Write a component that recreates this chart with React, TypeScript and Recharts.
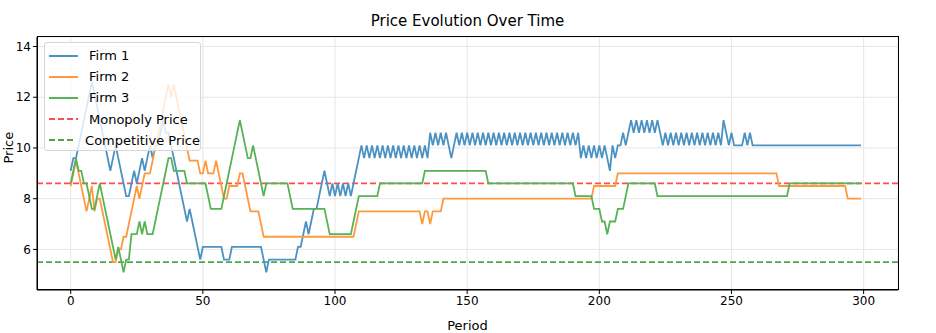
import React from "react";
import {
  LineChart,
  Line,
  XAxis,
  YAxis,
  CartesianGrid,
  ReferenceLine,
} from "recharts";

// prices per period (0..299)
const firm1Prices = [
  9.1, 9.6, 9.6, 10.1, 10.6, 11.1, 11.6, 12.1, 12.6, 12.1,
  11.6, 11.1, 10.6, 10.1, 9.6, 9.1, 9.6, 10.1, 9.6, 9.1,
  8.6, 8.1, 8.1, 8.6, 9.1, 8.6, 9.1, 9.6, 9.1, 9.6,
  10.1, 9.6, 10.1, 10.1, 10.6, 11.1, 10.6, 10.6, 10.1, 9.6,
  9.1, 8.6, 8.1, 7.6, 7.1, 7.6, 7.1, 6.6, 6.1, 5.6,
  6.1, 6.1, 6.1, 6.1, 6.1, 6.1, 6.1, 6.1, 5.6, 5.6,
  5.6, 6.1, 6.1, 6.1, 6.1, 6.1, 6.1, 6.1, 6.1, 6.1,
  6.1, 6.1, 6.1, 5.6, 5.1, 5.6, 5.6, 5.6, 5.6, 5.6,
  5.6, 5.6, 5.6, 5.6, 5.6, 5.6, 6.1, 6.1, 6.6, 7.1,
  6.6, 7.1, 7.6, 7.6, 8.1, 8.6, 9.1, 8.6, 8.1, 8.6,
  8.1, 8.6, 8.1, 8.6, 8.1, 8.6, 8.1, 8.6, 9.1, 9.6,
  10.1, 9.6, 10.1, 9.6, 10.1, 9.6, 10.1, 9.6, 10.1, 9.6,
  10.1, 9.6, 10.1, 9.6, 10.1, 9.6, 10.1, 9.6, 10.1, 9.6,
  10.1, 9.6, 10.1, 9.6, 10.1, 9.6, 10.6, 10.1, 10.6, 10.1,
  10.6, 10.1, 10.6, 10.1, 9.6, 10.1, 10.6, 10.1, 10.6, 10.1,
  10.6, 10.1, 10.6, 10.1, 10.6, 10.1, 10.6, 10.1, 10.6, 10.1,
  10.6, 10.1, 10.6, 10.1, 10.6, 10.1, 10.6, 10.1, 10.6, 10.1,
  10.6, 10.1, 10.6, 10.1, 10.6, 10.1, 10.6, 10.1, 10.6, 10.1,
  10.6, 10.1, 10.6, 10.1, 10.6, 10.1, 10.6, 10.1, 10.6, 10.1,
  10.6, 10.1, 10.6, 9.6, 10.1, 9.6, 10.1, 9.6, 10.1, 9.6,
  10.1, 9.6, 10.1, 9.6, 9.1, 10.1, 9.6, 10.1, 10.1, 10.6,
  10.1, 10.6, 11.1, 10.6, 11.1, 10.6, 11.1, 10.6, 11.1, 10.6,
  11.1, 10.6, 11.1, 10.6, 10.1, 10.6, 10.1, 10.6, 10.1, 10.6,
  10.1, 10.6, 10.1, 10.6, 10.1, 10.6, 10.1, 10.6, 10.1, 10.6,
  10.1, 10.6, 10.1, 10.6, 10.1, 10.6, 10.1, 11.1, 10.6, 10.1,
  10.6, 10.1, 10.1, 10.1, 10.1, 10.6, 10.1, 10.6, 10.1, 10.1,
  10.1, 10.1, 10.1, 10.1, 10.1, 10.1, 10.1, 10.1, 10.1, 10.1,
  10.1, 10.1, 10.1, 10.1, 10.1, 10.1, 10.1, 10.1, 10.1, 10.1,
  10.1, 10.1, 10.1, 10.1, 10.1, 10.1, 10.1, 10.1, 10.1, 10.1,
  10.1, 10.1, 10.1, 10.1, 10.1, 10.1, 10.1, 10.1, 10.1, 10.1,
];

const firm2Prices = [
  8.5, 9.0, 9.5, 9.0, 8.5, 8.0, 7.5, 8.0, 8.5, 7.5,
  8.0, 8.0, 7.5, 7.0, 6.5, 6.0, 5.5, 5.5, 6.0, 6.0,
  6.5, 6.5, 7.0, 7.5, 8.0, 8.5, 8.0, 8.5, 9.0, 9.0,
  9.0, 9.5, 10.0, 10.5, 11.0, 11.5, 12.0, 12.5, 12.0, 12.5,
  12.0, 11.5, 11.0, 10.5, 10.0, 9.5, 9.5, 9.5, 9.5, 9.0,
  9.0, 9.5, 9.0, 9.0, 9.0, 9.5, 9.0, 8.5, 8.0, 8.0,
  8.5, 8.5, 8.5, 8.5, 9.0, 9.0, 8.5, 8.0, 7.5, 7.5,
  7.5, 7.5, 7.0, 6.5, 6.5, 6.5, 6.5, 6.5, 6.5, 6.5,
  6.5, 6.5, 6.5, 6.5, 6.5, 6.5, 6.5, 6.5, 6.5, 6.5,
  6.5, 6.5, 6.5, 6.5, 6.5, 6.5, 6.5, 6.5, 6.5, 6.5,
  6.5, 6.5, 6.5, 6.5, 6.5, 6.5, 6.5, 6.5, 7.0, 7.5,
  7.5, 7.5, 7.5, 7.5, 7.5, 7.5, 7.5, 7.5, 7.5, 7.5,
  7.5, 7.5, 7.5, 7.5, 7.5, 7.5, 7.5, 7.5, 7.5, 7.5,
  7.5, 7.5, 7.5, 7.0, 7.5, 7.5, 7.0, 7.5, 7.5, 7.5,
  7.5, 8.0, 8.0, 8.0, 8.0, 8.0, 8.0, 8.0, 8.0, 8.0,
  8.0, 8.0, 8.0, 8.0, 8.0, 8.0, 8.0, 8.0, 8.0, 8.0,
  8.0, 8.0, 8.0, 8.0, 8.0, 8.0, 8.0, 8.0, 8.0, 8.0,
  8.0, 8.0, 8.0, 8.0, 8.0, 8.0, 8.0, 8.0, 8.0, 8.0,
  8.0, 8.0, 8.0, 8.0, 8.0, 8.0, 8.0, 8.0, 8.0, 8.0,
  8.0, 8.0, 8.0, 8.0, 8.0, 8.0, 8.0, 8.0, 8.5, 8.5,
  8.5, 8.5, 8.5, 8.5, 8.5, 8.5, 8.5, 9.0, 9.0, 9.0,
  9.0, 9.0, 9.0, 9.0, 9.0, 9.0, 9.0, 9.0, 9.0, 9.0,
  9.0, 9.0, 9.0, 9.0, 9.0, 9.0, 9.0, 9.0, 9.0, 9.0,
  9.0, 9.0, 9.0, 9.0, 9.0, 9.0, 9.0, 9.0, 9.0, 9.0,
  9.0, 9.0, 9.0, 9.0, 9.0, 9.0, 9.0, 9.0, 9.0, 9.0,
  9.0, 9.0, 9.0, 9.0, 9.0, 9.0, 9.0, 9.0, 9.0, 9.0,
  9.0, 9.0, 9.0, 9.0, 9.0, 9.0, 9.0, 9.0, 8.5, 8.5,
  8.5, 8.5, 8.5, 8.5, 8.5, 8.5, 8.5, 8.5, 8.5, 8.5,
  8.5, 8.5, 8.5, 8.5, 8.5, 8.5, 8.5, 8.5, 8.5, 8.5,
  8.5, 8.5, 8.5, 8.5, 8.0, 8.0, 8.0, 8.0, 8.0, 8.0,
];

const firm3Prices = [
  8.6, 9.1, 9.6, 9.1, 9.1, 8.6, 8.6, 8.1, 7.6, 7.6,
  8.1, 8.6, 8.1, 7.6, 7.1, 6.6, 6.1, 5.6, 6.1, 5.6,
  5.1, 5.6, 5.6, 6.6, 6.6, 6.6, 7.1, 6.6, 7.1, 6.6,
  6.6, 6.6, 7.1, 7.6, 8.1, 8.6, 9.1, 9.6, 9.6, 9.1,
  9.1, 9.1, 9.1, 9.1, 8.6, 8.6, 8.6, 8.6, 8.6, 8.6,
  8.6, 8.6, 8.1, 7.6, 7.6, 7.6, 7.6, 7.6, 8.1, 8.6,
  9.1, 9.6, 10.1, 10.6, 11.1, 10.6, 10.1, 9.6, 9.6, 10.1,
  9.6, 9.1, 8.6, 8.1, 8.6, 8.6, 8.6, 8.6, 8.6, 8.6,
  8.6, 8.6, 8.6, 8.1, 7.6, 7.6, 7.6, 7.6, 7.6, 7.6,
  7.6, 7.6, 7.6, 7.6, 7.6, 7.6, 7.6, 7.1, 6.6, 6.6,
  6.6, 6.6, 6.6, 6.6, 6.6, 6.6, 6.6, 7.1, 7.6, 8.1,
  8.1, 8.1, 8.1, 8.1, 8.1, 8.1, 8.1, 8.6, 8.6, 8.6,
  8.6, 8.6, 8.6, 8.6, 8.6, 8.6, 8.6, 8.6, 8.6, 8.6,
  8.6, 8.6, 8.6, 8.6, 9.1, 9.1, 9.1, 9.1, 9.1, 9.1,
  9.1, 9.1, 9.1, 9.1, 9.1, 9.1, 9.1, 9.1, 9.1, 9.1,
  9.1, 9.1, 9.1, 9.1, 9.1, 9.1, 9.1, 9.1, 8.6, 8.6,
  8.6, 8.6, 8.6, 8.6, 8.6, 8.6, 8.6, 8.6, 8.6, 8.6,
  8.6, 8.6, 8.6, 8.6, 8.6, 8.6, 8.6, 8.6, 8.6, 8.6,
  8.6, 8.6, 8.6, 8.6, 8.6, 8.6, 8.6, 8.6, 8.6, 8.6,
  8.6, 8.1, 8.1, 8.1, 8.1, 8.1, 8.1, 8.1, 7.6, 7.6,
  7.6, 7.1, 7.1, 6.6, 7.1, 7.1, 7.1, 7.6, 7.6, 7.6,
  8.1, 8.6, 8.6, 8.6, 8.6, 8.6, 8.6, 8.6, 8.6, 8.6,
  8.6, 8.6, 8.1, 8.1, 8.1, 8.1, 8.1, 8.1, 8.1, 8.1,
  8.1, 8.1, 8.1, 8.1, 8.1, 8.1, 8.1, 8.1, 8.1, 8.1,
  8.1, 8.1, 8.1, 8.1, 8.1, 8.1, 8.1, 8.1, 8.1, 8.1,
  8.1, 8.1, 8.1, 8.1, 8.1, 8.1, 8.1, 8.1, 8.1, 8.1,
  8.1, 8.1, 8.1, 8.1, 8.1, 8.1, 8.1, 8.1, 8.1, 8.1,
  8.1, 8.1, 8.6, 8.6, 8.6, 8.6, 8.6, 8.6, 8.6, 8.6,
  8.6, 8.6, 8.6, 8.6, 8.6, 8.6, 8.6, 8.6, 8.6, 8.6,
  8.6, 8.6, 8.6, 8.6, 8.6, 8.6, 8.6, 8.6, 8.6, 8.6,
];

const MONOPOLY_PRICE = 8.6;
const COMPETITIVE_PRICE = 5.5;

const xTicks = [0, 50, 100, 150, 200, 250, 300];
const yTicks = [6, 8, 10, 12, 14];

const FONT = "'DejaVu Sans', sans-serif";
const C_FIRM1 = "#4b92c3";
const C_FIRM2 = "#ff993e";
const C_FIRM3 = "#56b356";
const C_MONO = "#ff4d4d";
const C_COMP = "#4da64d";

// plot box in page pixels
const PLOT_LEFT = 37;
const PLOT_TOP = 37;
const PLOT_RIGHT = 898;
const PLOT_BOTTOM = 290;

const chartData = firm1Prices.map((p, i) => ({
  period: i,
  firm1: p,
  firm2: firm2Prices[i],
  firm3: firm3Prices[i],
}));

const legendItems = [
  { label: "Firm 1", color: C_FIRM1, dashed: false },
  { label: "Firm 2", color: C_FIRM2, dashed: false },
  { label: "Firm 3", color: C_FIRM3, dashed: false },
  { label: "Monopoly Price", color: C_MONO, dashed: true },
  { label: "Competitive Price", color: C_COMP, dashed: true },
];

function PriceLegend() {
  return (
    <div
      style={{
        position: "absolute",
        left: 44,
        top: 42,
        width: 157,
        height: 109,
        background: "rgba(255,255,255,0.8)",
        border: "1px solid #d6d6d6",
        borderRadius: 3,
        boxSizing: "border-box",
        paddingTop: 2,
      }}
    >
      {legendItems.map((it) => (
        <div
          key={it.label}
          style={{ display: "flex", alignItems: "center", height: 21.2 }}
        >
          <svg width={29} height={6} style={{ marginLeft: 4 }}>
            <line
              x1={0}
              y1={3}
              x2={29}
              y2={3}
              stroke={it.color}
              strokeWidth={2}
              strokeDasharray={it.dashed ? "6 3" : undefined}
            />
          </svg>
          <span
            style={{
              marginLeft: 11,
              fontFamily: FONT,
              fontSize: 13,
              color: "#000",
              whiteSpace: "nowrap",
            }}
          >
            {it.label}
          </span>
        </div>
      ))}
    </div>
  );
}

export default function App() {
  const tickStyle = { fill: "#000", fontSize: 12, fontFamily: FONT };
  return (
    <div
      style={{
        position: "absolute",
        left: 0,
        top: 0,
        width: 936,
        height: 333,
        background: "#fff",
      }}
    >
      <div
        style={{
          position: "absolute",
          left: PLOT_LEFT,
          width: PLOT_RIGHT - PLOT_LEFT,
          top: 11,
          textAlign: "center",
          fontFamily: FONT,
          fontSize: 15,
          lineHeight: "20px",
        }}
      >
        Price Evolution Over Time
      </div>
      <LineChart
        width={936}
        height={333}
        data={chartData}
        margin={{ top: PLOT_TOP, right: 936 - PLOT_RIGHT, bottom: 0, left: 0 }}
      >
        <CartesianGrid stroke="#e6e6e6" strokeWidth={1} />
        <XAxis
          dataKey="period"
          type="number"
          domain={[-12.75, 313]}
          ticks={xTicks}
          allowDataOverflow
          height={333 - PLOT_BOTTOM}
          tick={tickStyle}
          tickSize={4}
          stroke="#000"
          label={{
            value: "Period",
            position: "insideBottom",
            offset: 3,
            fill: "#000",
            fontSize: 13,
            fontFamily: FONT,
          }}
        />
        <YAxis
          type="number"
          domain={[4.4, 14.375]}
          ticks={yTicks}
          allowDataOverflow
          width={PLOT_LEFT}
          tick={tickStyle}
          tickSize={4}
          stroke="#000"
          label={{
            value: "Price",
            angle: -90,
            position: "insideLeft",
            offset: 8,
            fill: "#000",
            fontSize: 13,
            fontFamily: FONT,
          }}
        />
        <ReferenceLine
          y={MONOPOLY_PRICE}
          stroke={C_MONO}
          strokeWidth={1.8}
          strokeDasharray="6 3"
        />
        <ReferenceLine
          y={COMPETITIVE_PRICE}
          stroke={C_COMP}
          strokeWidth={1.8}
          strokeDasharray="6 3"
        />
        <Line
          type="linear"
          dataKey="firm1"
          stroke={C_FIRM1}
          strokeWidth={1.8}
          dot={false}
          isAnimationActive={false}
        />
        <Line
          type="linear"
          dataKey="firm2"
          stroke={C_FIRM2}
          strokeWidth={1.8}
          dot={false}
          isAnimationActive={false}
        />
        <Line
          type="linear"
          dataKey="firm3"
          stroke={C_FIRM3}
          strokeWidth={1.8}
          dot={false}
          isAnimationActive={false}
        />
      </LineChart>
      {/* full frame around the plot, like the reference */}
      <div
        style={{
          position: "absolute",
          left: PLOT_LEFT,
          top: PLOT_TOP - 1,
          width: PLOT_RIGHT - PLOT_LEFT + 1,
          height: PLOT_BOTTOM - PLOT_TOP + 1,
          border: "1px solid #000",
          boxSizing: "border-box",
          pointerEvents: "none",
        }}
      />
      <PriceLegend />
    </div>
  );
}
